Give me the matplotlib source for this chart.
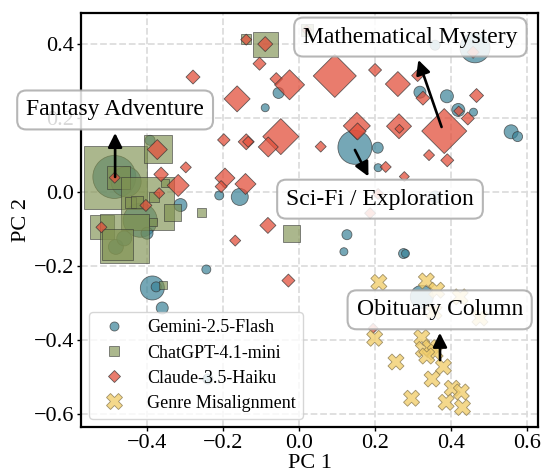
import matplotlib
matplotlib.use("Agg")
import matplotlib.pyplot as plt
from matplotlib.lines import Line2D
import numpy as np

plt.rcParams['font.family'] = 'serif'
plt.rcParams['font.serif'] = ['Liberation Serif', 'DejaVu Serif']

# Gemini-2.5-Flash: PC1, PC2, marker diameter (px)
gem_x = [-0.486, -0.455, -0.418, -0.400, -0.482, -0.460, -0.392, -0.312, -0.244, -0.386,
         -0.376, -0.360, -0.240, -0.089, -0.054, -0.210, -0.156, 0.126, 0.118, 0.275,
         0.280, 0.323, 0.318, 0.147, 0.207, 0.208, 0.389, 0.419, 0.459, 0.558,
         0.575, 0.463, 0.358, 0.358]
gem_y = [0.041, 0.028, -0.076, -0.111, -0.148, -0.125, 0.140, -0.035, -0.209, -0.259,
         -0.256, -0.313, -0.505, 0.228, 0.268, -0.009, -0.013, -0.115, -0.161, -0.166,
         -0.166, -0.283, 0.270, 0.121, 0.120, 0.066, 0.259, 0.222, 0.216, 0.163,
         0.150, 0.390, 0.397, -0.013]
gem_d = [43, 30, 34, 12, 15, 15, 10, 13, 9, 24,
         10, 12, 10, 8, 11, 9, 17, 10, 8, 10,
         8, 23, 12, 34, 11, 8, 13, 13, 8, 14,
         10, 30, 10, 12]

# ChatGPT-4.1-mini: PC1, PC2, square side (px)
gpt_x = [-0.484, -0.372, -0.474, -0.400, -0.333, -0.257, -0.443, -0.427, -0.519, -0.458,
         -0.479, -0.383, -0.353, -0.381, -0.358, -0.139, -0.089, -0.021, 0.020]
gpt_y = [0.039, 0.116, 0.039, -0.032, -0.054, -0.056, -0.027, -0.027, -0.093, -0.126,
         -0.141, -0.081, 0.025, -0.013, -0.251, 0.413, 0.400, -0.112, 0.438]
gpt_d = [63, 28, 23, 53, 17, 9, 11, 12, 24, 49,
         31, 8, 8, 10, 8, 10, 25, 17, 12]

# Claude-3.5-Haiku: PC1, PC2, diamond width (px)
cla_x = [-0.373, -0.363, -0.298, -0.318, -0.368, -0.403, -0.485, -0.520, -0.139, -0.089,
         -0.104, -0.279, -0.163, -0.060, -0.025, -0.198, -0.139, -0.134, -0.048, -0.081,
         -0.195, -0.205, -0.141, -0.082, -0.168, -0.028, 0.195, 0.094, 0.200, 0.260,
         0.312, 0.326, 0.152, 0.154, 0.263, 0.264, 0.057, 0.228, 0.277, 0.342,
         0.382, 0.390, 0.467, 0.420, 0.444, 0.458, 0.020, 0.187, 0.208]
cla_y = [0.115, 0.048, 0.067, 0.018, -0.003, -0.036, 0.039, -0.095, 0.412, 0.400,
         0.347, 0.311, 0.252, 0.306, 0.290, 0.141, 0.136, 0.136, 0.150, 0.122,
         0.038, 0.015, 0.022, -0.090, -0.131, -0.239, -0.368, 0.314, 0.330, 0.292,
         0.315, 0.254, 0.179, 0.164, 0.178, 0.171, 0.123, 0.068, 0.042, 0.100,
         0.165, 0.086, 0.261, 0.219, 0.199, 0.378, 0.438, -0.057, -0.005]
cla_d = [20, 14.5, 11, 22, 11, 12, 11, 11, 11, 15,
         13, 14, 26, 12.5, 30, 12.5, 16, 11, 36, 20,
         20, 12, 21, 16, 11, 13, 10, 43, 13, 25,
         12, 14, 27, 17, 25, 9, 11, 11, 10, 11,
         45, 13, 14, 10, 13, 12, 10, 11, 11]

# Genre misalignment cases
mis_x = [0.210, 0.335, 0.362, 0.355, 0.424, 0.476, 0.199, 0.323, 0.327, 0.345,
         0.358, 0.336, 0.255, 0.380, 0.350, 0.403, 0.427, 0.296, 0.387, 0.430]
mis_y = [-0.244, -0.240, -0.265, -0.323, -0.283, -0.340, -0.395, -0.393, -0.425, -0.420,
         -0.432, -0.443, -0.459, -0.472, -0.505, -0.530, -0.540, -0.557, -0.568, -0.582]

labels = ["Gemini-2.5-Flash", "ChatGPT-4.1-mini", "Claude-3.5-Haiku", "Genre Misalignment"]

# cluster annotations: text, text position, arrow target
notes = [
    ("Fantasy Adventure", (-0.484, 0.222), (-0.484, 0.041)),
    ("Mathematical Mystery", (0.293, 0.419), (0.375, 0.176)),
    ("Sci-Fi / Exploration", (0.213, -0.019), (0.147, 0.114)),
    ("Obituary Column", (0.370, -0.318), (0.371, -0.454)),
]

c_gem = '#3a8297'
c_gpt = '#7f9150'
c_cla = '#e2503c'
c_mis = '#f2cf6e'

px2pt = 72 / 100.0


def size_from_px(d, k=1.0):
    d = np.asarray(d, dtype=float)
    return (d * px2pt / k) ** 2


fig = plt.figure(figsize=(5.43, 4.73), dpi=100)
ax = fig.add_axes([0.149, 0.097, 0.842, 0.8755])

ax.scatter(gem_x, gem_y, s=size_from_px(gem_d), marker='o', c=c_gem, alpha=0.7,
           edgecolors='#333333', linewidths=0.6, zorder=2)
ax.scatter(gpt_x, gpt_y, s=size_from_px(gpt_d), marker='s', c=c_gpt, alpha=0.65,
           edgecolors='#333333', linewidths=0.6, zorder=3)
ax.scatter(cla_x, cla_y, s=size_from_px(cla_d, np.sqrt(2)), marker='D', c=c_cla, alpha=0.75,
           edgecolors='#333333', linewidths=0.6, zorder=4)
ax.scatter(mis_x, mis_y, s=size_from_px([16] * len(mis_x)), marker='X', c=c_mis, alpha=0.8,
           edgecolors='#8a7a50', linewidths=0.6, zorder=5)

for text, pos, target in notes:
    ax.annotate(text, xy=target, xytext=pos, fontsize=17, ha='center', va='center',
                bbox=dict(boxstyle='round,pad=0.38', fc='white', ec='#aaaaaa', lw=1.5, alpha=0.85),
                arrowprops=dict(arrowstyle='<|-,head_length=0.5,head_width=0.25', color='black',
                                lw=1.9, shrinkA=2, shrinkB=0),
                annotation_clip=False, zorder=10)

ax.set_xlim(-0.574, 0.629)
ax.set_ylim(-0.635, 0.484)
ax.set_xticks([-0.4, -0.2, 0.0, 0.2, 0.4, 0.6])
ax.set_yticks([-0.6, -0.4, -0.2, 0.0, 0.2, 0.4])
ax.tick_params(labelsize=16, length=3, width=1, pad=2)
ax.grid(True, linestyle='--', color='#dddddd', linewidth=1.3, zorder=0)
ax.set_axisbelow(True)
for sp in ax.spines.values():
    sp.set_linewidth(1.6)
ax.set_xlabel("PC 1", fontsize=16, labelpad=1)
ax.set_ylabel("PC 2", fontsize=16, labelpad=2)

handles = [
    Line2D([], [], ls='none', marker='o', ms=6.5, mfc=c_gem, mec='#333333', mew=0.6, alpha=0.7),
    Line2D([], [], ls='none', marker='s', ms=6.5, mfc=c_gpt, mec='#333333', mew=0.6, alpha=0.65),
    Line2D([], [], ls='none', marker='D', ms=6.5, mfc=c_cla, mec='#333333', mew=0.6, alpha=0.75),
    Line2D([], [], ls='none', marker='X', ms=12, mfc=c_mis, mec='#8a7a50', mew=0.6, alpha=0.8),
]
leg = ax.legend(handles, labels, loc='lower left', fontsize=13, framealpha=0.8,
                borderaxespad=0.45, labelspacing=0.45)
leg.set_zorder(9)

fig.savefig('out.png', dpi=100)
